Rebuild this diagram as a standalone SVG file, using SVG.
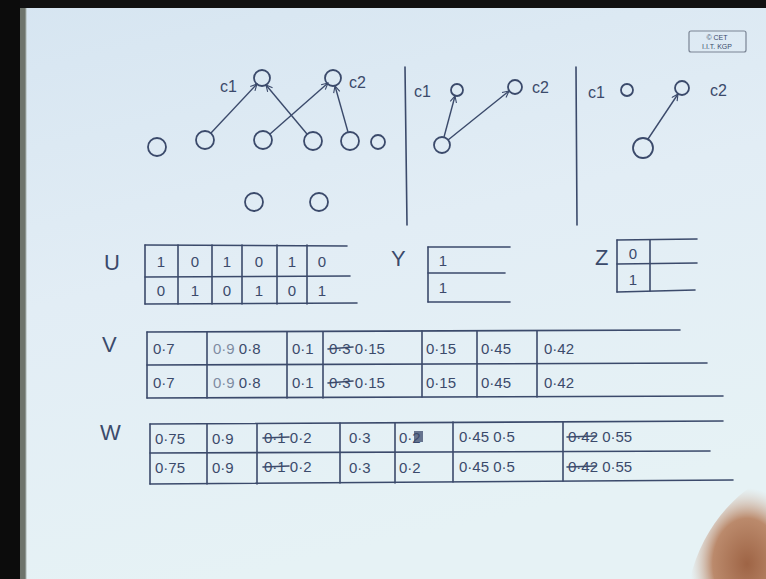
<svg xmlns="http://www.w3.org/2000/svg" width="766" height="579" viewBox="0 0 766 579">
<defs>
<linearGradient id="paper" x1="0" y1="0" x2="0.3" y2="1">
<stop offset="0" stop-color="#d6e5f1"/>
<stop offset="0.5" stop-color="#e2edf5"/>
<stop offset="1" stop-color="#e6f2f5"/>
</linearGradient>
<radialGradient id="hand" cx="0.75" cy="0.85" r="0.75">
<stop offset="0" stop-color="#9e6445"/>
<stop offset="0.6" stop-color="#bb8a6c"/>
<stop offset="1" stop-color="#d9c3b4" stop-opacity="0"/>
</radialGradient>
<marker id="ah" viewBox="0 0 10 10" refX="9" refY="5" markerWidth="8" markerHeight="8" orient="auto" markerUnits="userSpaceOnUse">
<path d="M1,1 L9,5 L1,9" fill="none" stroke="#3b4a6b" stroke-width="1.4"/>
</marker>
<style>
.ink{stroke:#3b4a6b;stroke-width:1.6;fill:none;stroke-linecap:round}
.node{stroke:#3b4a6b;stroke-width:1.8;fill:none}
.edge{stroke:#3b4a6b;stroke-width:1.4;fill:none;marker-end:url(#ah)}
.t{font-family:"Liberation Sans",Arial,sans-serif;fill:#3b4a6b}
.v{font-size:15px}
.lbl{font-size:22px}
.cl{font-size:16px}
.faint{opacity:0.6}
</style>
</defs>
<rect x="0" y="0" width="766" height="579" fill="url(#paper)"/>
<rect x="0" y="0" width="766" height="8" fill="#111"/>
<rect x="0" y="0" width="20" height="579" fill="#0c0c0c"/>
<rect x="20" y="8" width="6" height="571" fill="#6e746c"/>
<line x1="26" y1="8" x2="26" y2="579" stroke="#a9b3b0" stroke-width="1"/>
<path d="M690,579 C700,535 730,495 766,478 L766,579 Z" fill="url(#hand)"/>

<g id="logo">
<rect x="689" y="31" width="57" height="21" rx="2" fill="none" stroke="#7a8494" stroke-width="1.2"/>
<text class="t" x="717" y="40" font-size="7" text-anchor="middle" fill="#6d7787">© CET</text>
<text class="t" x="717" y="49" font-size="7" text-anchor="middle" fill="#6d7787">I.I.T. KGP</text>
</g>

<g id="separators">
<line class="ink" x1="405" y1="67" x2="407" y2="225"/>
<line class="ink" x1="576" y1="67" x2="577" y2="225"/>
</g>

<g id="graph1">
<g id="g1-c1"><circle class="node" cx="262" cy="78" r="8"/><text class="t cl" x="220" y="92">c1</text></g>
<g id="g1-c2"><circle class="node" cx="333" cy="78" r="8"/><text class="t cl" x="349" y="88">c2</text></g>
<g id="g1-n1"><circle class="node" cx="157" cy="147" r="9"/></g>
<g id="g1-n2"><circle class="node" cx="205" cy="140" r="9"/></g>
<g id="g1-n3"><circle class="node" cx="263" cy="140" r="9"/></g>
<g id="g1-n4"><circle class="node" cx="313" cy="141" r="9"/></g>
<g id="g1-n5"><circle class="node" cx="350" cy="141" r="9"/></g>
<g id="g1-n6"><circle class="node" cx="378" cy="142" r="7"/></g>
<g id="g1-n7"><circle class="node" cx="254" cy="202" r="9"/></g>
<g id="g1-n8"><circle class="node" cx="319" cy="202" r="9"/></g>
</g>

<g id="graph2">
<g id="g2-c1"><circle class="node" cx="457" cy="90" r="6"/><text class="t cl" x="414" y="97">c1</text></g>
<g id="g2-c2"><circle class="node" cx="515" cy="87" r="7"/><text class="t cl" x="532" y="93">c2</text></g>
<g id="g2-n1"><circle class="node" cx="442" cy="145" r="8"/></g>
</g>

<g id="graph3">
<g id="g3-c1"><circle class="node" cx="627" cy="90" r="6"/><text class="t cl" x="588" y="98">c1</text></g>
<g id="g3-c2"><circle class="node" cx="682" cy="88" r="7"/><text class="t cl" x="710" y="96">c2</text></g>
<g id="g3-n1"><circle class="node" cx="643" cy="148" r="10"/></g>
</g>

<g id="connectors">
<line class="edge" x1="211" y1="133" x2="257" y2="84"/>
<line class="edge" x1="307" y1="134" x2="266" y2="85"/>
<line class="edge" x1="270" y1="134" x2="328" y2="83"/>
<line class="edge" x1="348" y1="132" x2="335" y2="86"/>
<line class="edge" x1="444" y1="137" x2="455" y2="96"/>
<line class="edge" x1="448" y1="140" x2="509" y2="91"/>
<line class="edge" x1="648" y1="139" x2="678" y2="94"/>
</g>

<g id="matrixU">
<text class="t lbl" x="104" y="270">U</text>
<line class="ink" x1="145" y1="245" x2="347" y2="246"/>
<line class="ink" x1="145" y1="277" x2="350" y2="276"/>
<line class="ink" x1="145" y1="304" x2="357" y2="303"/>
<line class="ink" x1="145" y1="245" x2="145" y2="304"/>
<line class="ink" x1="178" y1="245" x2="178" y2="304"/>
<line class="ink" x1="212" y1="245" x2="212" y2="304"/>
<line class="ink" x1="242" y1="245" x2="242" y2="304"/>
<line class="ink" x1="277" y1="245" x2="277" y2="304"/>
<line class="ink" x1="307" y1="245" x2="307" y2="304"/>
<g class="t v" text-anchor="middle">
<text x="161" y="267">1</text><text x="195" y="267">0</text><text x="227" y="267">1</text><text x="259" y="267">0</text><text x="292" y="267">1</text><text x="322" y="267">0</text>
<text x="161" y="296">0</text><text x="195" y="296">1</text><text x="227" y="296">0</text><text x="259" y="296">1</text><text x="292" y="296">0</text><text x="322" y="296">1</text>
</g>
</g>

<g id="matrixY">
<text class="t lbl" x="391" y="266">Y</text>
<line class="ink" x1="428" y1="247" x2="510" y2="247"/>
<line class="ink" x1="428" y1="273" x2="505" y2="273"/>
<line class="ink" x1="428" y1="302" x2="510" y2="302"/>
<line class="ink" x1="428" y1="247" x2="428" y2="302"/>
<g class="t v" text-anchor="middle"><text x="443" y="266">1</text><text x="443" y="293">1</text></g>
</g>

<g id="matrixZ">
<text class="t lbl" x="595" y="265">Z</text>
<line class="ink" x1="617" y1="240" x2="697" y2="239"/>
<line class="ink" x1="617" y1="264" x2="697" y2="263"/>
<line class="ink" x1="617" y1="292" x2="695" y2="290"/>
<line class="ink" x1="617" y1="240" x2="617" y2="292"/>
<line class="ink" x1="650" y1="240" x2="650" y2="291"/>
<g class="t v" text-anchor="middle"><text x="633" y="259">0</text><text x="633" y="285">1</text></g>
</g>

<g id="matrixV">
<text class="t lbl" x="102" y="352">V</text>
<line class="ink" x1="147" y1="332" x2="680" y2="330"/>
<line class="ink" x1="147" y1="365" x2="707" y2="363"/>
<line class="ink" x1="147" y1="398" x2="723" y2="396"/>
<line class="ink" x1="147" y1="332" x2="147" y2="398"/>
<line class="ink" x1="207" y1="332" x2="207" y2="398"/>
<line class="ink" x1="287" y1="332" x2="287" y2="398"/>
<line class="ink" x1="323" y1="332" x2="323" y2="398"/>
<line class="ink" x1="422" y1="331" x2="422" y2="397"/>
<line class="ink" x1="477" y1="331" x2="477" y2="397"/>
<line class="ink" x1="537" y1="331" x2="537" y2="397"/>
<g class="t v">
<text x="153" y="354">0·7</text><text x="213" y="354"><tspan class="faint">0·9</tspan> 0·8</text><text x="292" y="354">0·1</text><text x="329" y="354">0·3 0·15</text><text x="426" y="354">0·15</text><text x="481" y="354">0·45</text><text x="544" y="354">0·42</text>
<text x="153" y="388">0·7</text><text x="213" y="388"><tspan class="faint">0·9</tspan> 0·8</text><text x="292" y="388">0·1</text><text x="329" y="388">0·3 0·15</text><text x="426" y="388">0·15</text><text x="481" y="388">0·45</text><text x="544" y="388">0·42</text>
</g>
<line class="ink" x1="328" y1="349" x2="353" y2="347"/>
<line class="ink" x1="328" y1="383" x2="353" y2="381"/>
</g>

<g id="matrixW">
<text class="t lbl" x="100" y="440">W</text>
<line class="ink" x1="150" y1="424" x2="723" y2="421"/>
<line class="ink" x1="150" y1="453" x2="710" y2="451"/>
<line class="ink" x1="150" y1="484" x2="733" y2="480"/>
<line class="ink" x1="150" y1="424" x2="150" y2="484"/>
<line class="ink" x1="207" y1="424" x2="207" y2="484"/>
<line class="ink" x1="257" y1="424" x2="257" y2="484"/>
<line class="ink" x1="340" y1="423" x2="340" y2="483"/>
<line class="ink" x1="395" y1="423" x2="395" y2="483"/>
<line class="ink" x1="453" y1="422" x2="453" y2="482"/>
<line class="ink" x1="563" y1="422" x2="563" y2="481"/>
<g class="t v">
<text x="155" y="444">0·75</text><text x="212" y="444">0·9</text><text x="264" y="443">0·1 0·2</text><text x="349" y="443">0·3</text><text x="399" y="443">0·2</text><text x="459" y="442">0·45 0·5</text><text x="568" y="442">0·42 0·55</text>
<text x="155" y="473">0·75</text><text x="212" y="473">0·9</text><text x="264" y="472">0·1 0·2</text><text x="349" y="473">0·3</text><text x="399" y="473">0·2</text><text x="459" y="472">0·45 0·5</text><text x="568" y="472">0·42 0·55</text>
</g>
<line class="ink" x1="263" y1="438" x2="289" y2="437"/>
<line class="ink" x1="263" y1="467" x2="289" y2="466"/>
<line class="ink" x1="567" y1="437" x2="596" y2="436"/>
<line class="ink" x1="567" y1="467" x2="596" y2="466"/>
<rect x="414" y="431" width="9" height="11" fill="#3b4a6b" opacity="0.75"/>
</g>
</svg>
